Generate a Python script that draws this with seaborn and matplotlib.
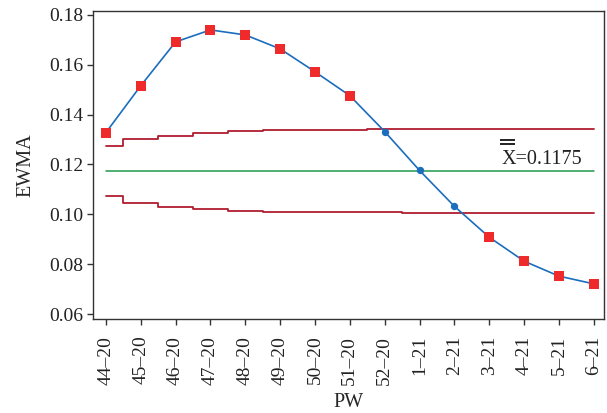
import matplotlib
matplotlib.use("Agg")
import matplotlib.pyplot as plt
import seaborn as sns
import numpy as np
import pandas as pd

# Pandemic weeks (week–year)
weeks = ["44–20", "45–20", "46–20", "47–20", "48–20", "49–20", "50–20", "51–20",
         "52–20", "1–21", "2–21", "3–21", "4–21", "5–21", "6–21"]

# EWMA statistic per week
ewma = [0.1328, 0.1516, 0.1692, 0.1740, 0.1720, 0.1664, 0.1572, 0.1476,
        0.1332, 0.1176, 0.1032, 0.0908, 0.0812, 0.0752, 0.0721]

# Upper and lower control limits per week
ucl = [0.1273, 0.1303, 0.1316, 0.1328, 0.1334, 0.1337, 0.1339, 0.1340,
       0.1341, 0.1342, 0.1342, 0.1343, 0.1343, 0.1343, 0.1343]
lcl = [0.1072, 0.1044, 0.1031, 0.1021, 0.1013, 0.1011, 0.1010, 0.1009,
       0.1008, 0.1007, 0.1006, 0.1006, 0.1006, 0.1006, 0.1006]

center = 0.1175
y_ticks = [0.06, 0.08, 0.10, 0.12, 0.14, 0.16, 0.18]

df = pd.DataFrame({"pos": np.arange(len(weeks)), "PW": weeks, "EWMA": ewma,
                   "UCL": ucl, "LCL": lcl})
df["out"] = (df["EWMA"] > df["UCL"]) | (df["EWMA"] < df["LCL"])

sns.set_style("ticks")
plt.rcParams["font.family"] = ["Liberation Serif", "DejaVu Serif"]
plt.rcParams["font.size"] = 14

fig = plt.figure(figsize=(6.07, 4.13), dpi=100)
ax = fig.add_axes([0.1532, 0.2276, 0.8418, 0.7458])

# control limits as step lines
ax.plot(df["pos"], df["UCL"], drawstyle="steps-mid", color="#b01c2e", lw=1.3, zorder=2)
ax.plot(df["pos"], df["LCL"], drawstyle="steps-mid", color="#b01c2e", lw=1.3, zorder=2)
# center line
ax.plot([df["pos"].iloc[0], df["pos"].iloc[-1]], [center, center], color="#1f9a4a", lw=1.1, zorder=2)

# EWMA line and points
sns.lineplot(data=df, x="pos", y="EWMA", ax=ax, color="#1b6dbd", lw=1.2, zorder=3)
sns.scatterplot(data=df[~df["out"]], x="pos", y="EWMA", ax=ax, color="#1b6dbd",
                marker="o", s=28, linewidth=0, zorder=4)
sns.scatterplot(data=df[df["out"]], x="pos", y="EWMA", ax=ax, color="#ee2a2a",
                marker="s", s=50, linewidth=0, zorder=4)

# center-line annotation with double bar over X
ax.text(11.36, 0.1200, "X=0.1175", fontsize=14.5, ha="left", va="baseline", color="#222222")
for yb in (0.1300, 0.1284):
    ax.plot([11.31, 11.74], [yb, yb], color="#222222", lw=1.4, solid_capstyle="butt")

ax.set_xlim(-0.37, 14.29)
ax.set_ylim(0.058, 0.1816)
ax.set_xticks(df["pos"])
ax.set_xticklabels(weeks, rotation=90)
ax.set_yticks(y_ticks)
ax.set_yticklabels([f"{v:.2f}" for v in y_ticks])
ax.set_xlabel("PW", fontsize=14.5, labelpad=6)
ax.set_ylabel("EWMA", fontsize=14.5, labelpad=10)

for sp in ax.spines.values():
    sp.set_visible(True)
    sp.set_color("#333333")
    sp.set_linewidth(1.0)
ax.tick_params(axis="both", direction="out", length=4, width=1, color="#333333",
               labelsize=14, labelcolor="#222222", pad=3)
ax.tick_params(axis="x", pad=8)

fig.savefig("out.png", dpi=100)
